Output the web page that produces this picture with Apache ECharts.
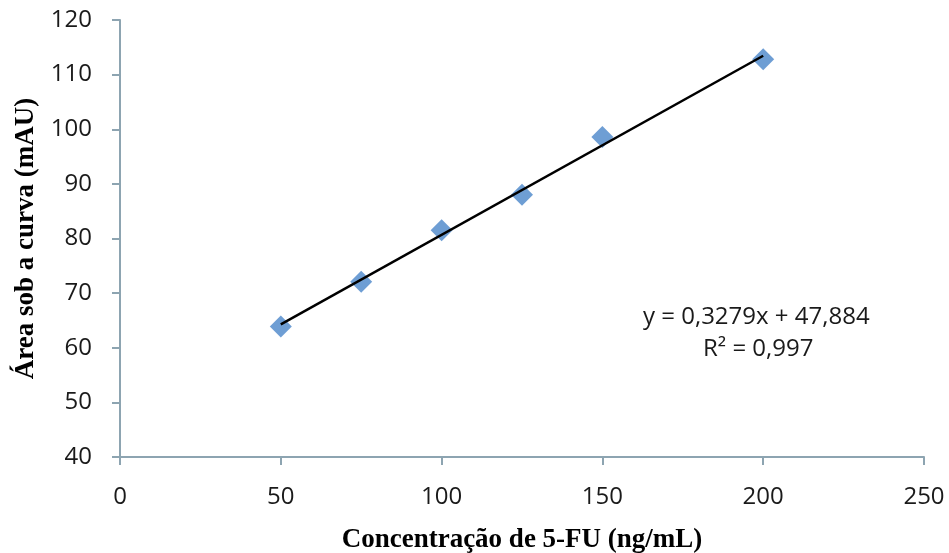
<!DOCTYPE html>
<html>
<head>
<meta charset="utf-8">
<script src="https://cdn.jsdelivr.net/npm/echarts@6/dist/echarts.min.js"></script>
<style>
  html, body { margin: 0; padding: 0; background: #fff; }
  #chart { width: 949px; height: 553px; }
</style>
</head>
<body>
<div id="chart"></div>
<script>
// measured points
var concentrations = [50, 75, 100, 125, 150, 200];
var areas = [63.9, 72.1, 81.5, 88.0, 98.6, 112.8];
// trend line ends as drawn
var trendX = [50, 200];
var trendY = [64.28, 113.46];
var equationText = 'y = 0,3279x + 47,884';
var r2Text = 'R² = 0,997';

var axisColor = '#8DA4B1';
var labelFont = '"Open Sans", "Liberation Sans", sans-serif';
var titleFont = '"Liberation Serif", "Times New Roman", serif';

var myChart = echarts.init(document.getElementById('chart'));
var option = {
  animation: false,
  grid: { left: 120, top: 20, right: 25, bottom: 96, outerBoundsMode: 'none', containLabel: false },
  xAxis: {
    type: 'value',
    min: 0, max: 250, interval: 50,
    name: 'Concentração de 5-FU (ng/mL)',
    nameLocation: 'middle',
    nameGap: 70,
    nameTextStyle: { fontFamily: titleFont, fontWeight: 'bold', fontSize: 27, color: '#000' },
    axisLine: { show: true, lineStyle: { color: axisColor, width: 2 } },
    axisTick: { show: true, length: 8, lineStyle: { color: axisColor, width: 2 } },
    axisLabel: { margin: 28, fontFamily: labelFont, fontSize: 24, color: '#1a1a1a' },
    splitLine: { show: false }
  },
  yAxis: {
    type: 'value',
    min: 40, max: 120, interval: 10,
    name: 'Área sob a curva (mAU)',
    nameLocation: 'middle',
    nameGap: 80,
    nameTextStyle: { fontFamily: titleFont, fontWeight: 'bold', fontSize: 27, color: '#000' },
    axisLine: { show: true, lineStyle: { color: axisColor, width: 2 } },
    axisTick: { show: true, length: 8, lineStyle: { color: axisColor, width: 2 } },
    axisLabel: { margin: 28, fontFamily: labelFont, fontSize: 24, color: '#1a1a1a' },
    splitLine: { show: false }
  },
  series: [
    {
      name: 'Área',
      type: 'scatter',
      symbol: 'diamond',
      symbolSize: [22, 22],
      itemStyle: { color: '#4A86C9' },
      data: concentrations.map(function (c, i) { return [c, areas[i]]; }),
      z: 2
    },
    {
      name: 'Linear',
      type: 'line',
      symbol: 'none',
      lineStyle: { color: '#000', width: 2.5 },
      data: trendX.map(function (x, i) { return [x, trendY[i]]; }),
      z: 3
    }
  ],
  graphic: [
    {
      type: 'text', left: 643, top: 305,
      style: { text: equationText, fontFamily: labelFont, fontSize: 24, fill: '#1a1a1a' }
    },
    {
      type: 'text', left: 703, top: 337,
      style: { text: r2Text, fontFamily: labelFont, fontSize: 24, fill: '#1a1a1a' }
    }
  ]
};
myChart.setOption(option);
</script>
</body>
</html>
